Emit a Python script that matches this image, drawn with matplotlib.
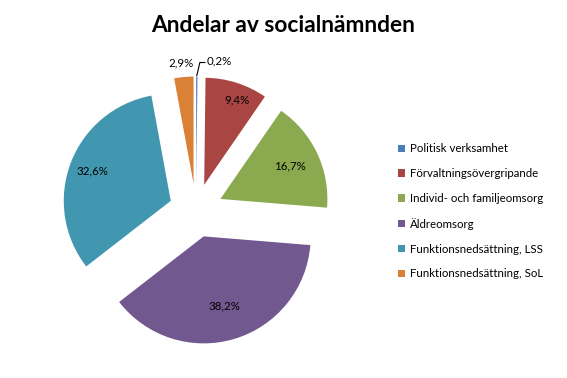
import numpy as np
import matplotlib
matplotlib.use('Agg')
import matplotlib.pyplot as plt
from matplotlib.patches import Patch

# data
labels = ['Politisk verksamhet', 'Förvaltningsövergripande', 'Individ- och familjeomsorg',
          'Äldreomsorg', 'Funktionsnedsättning, LSS', 'Funktionsnedsättning, SoL']
values = [0.2, 9.4, 16.7, 38.2, 32.6, 2.9]
colors = ['#4A7EBB', '#A94543', '#8BA94F', '#71588F', '#4297B0', '#DA8137']
title = 'Andelar av socialnämnden'

plt.rcParams['font.family'] = ['Lato', 'DejaVu Sans']

W, H = 567, 378
fig = plt.figure(figsize=(W / 100, H / 100), dpi=100)
ax = fig.add_axes([0, 0, 1, 1])

cx, cy, r = 196, H - 210.5, 107
# explode anges i dataenheter (pixlar)
wedges, _ = ax.pie(values, colors=colors, startangle=90, counterclock=False,
                   center=(cx, cy), radius=r, explode=[27] * len(values),
                   frame=True)
ax.set_xlim(0, W)
ax.set_ylim(0, H)
ax.set_aspect('equal')
ax.axis('off')

# procent-etiketter
def fmt(v):
    return ('%.1f%%' % v).replace('.', ',')

dist = [None, 0.83, 0.72, 0.68, 0.78, None]
shift = [0, 6, 0, 0, 0, 0]
for w, v, d, s in zip(wedges, values, dist, shift):
    ang = np.deg2rad((w.theta1 + w.theta2) / 2)
    ox, oy = w.center
    if d is not None:
        ax.text(ox + d * r * np.cos(ang) + s, oy + d * r * np.sin(ang), fmt(v),
                ha='center', va='center', fontsize=8.3)

# små andelar utanför
w0, w5 = wedges[0], wedges[5]
a0 = np.deg2rad((w0.theta1 + w0.theta2) / 2)
tip = (w0.center[0] + 1.0 * r * np.cos(a0), w0.center[1] + 1.0 * r * np.sin(a0))
ax.plot([tip[0], tip[0] + 3, tip[0] + 8], [tip[1] + 1, tip[1] + 14, tip[1] + 14],
        color='black', lw=0.8)
ax.text(tip[0] + 10, tip[1] + 16, fmt(values[0]), ha='left', va='center', fontsize=8.3)
a5 = np.deg2rad((w5.theta1 + w5.theta2) / 2)
ax.text(w5.center[0] + 1.13 * r * np.cos(a5) - 2, w5.center[1] + 1.13 * r * np.sin(a5),
        fmt(values[5]), ha='center', va='center', fontsize=8.3)

fig.text(283.5 / W, 1 - 26 / H, title, ha='center', va='center',
         fontsize=16.4, fontweight='bold')

handles = [Patch(facecolor=c, edgecolor='none') for c in colors]
fig.legend(handles, labels, loc='upper left', bbox_to_anchor=(388 / W, 1 - 133 / H),
           frameon=False, fontsize=8.3, handlelength=0.6, handleheight=0.6,
           handletextpad=0.4, labelspacing=1.2)

fig.savefig('out.png', dpi=100)
